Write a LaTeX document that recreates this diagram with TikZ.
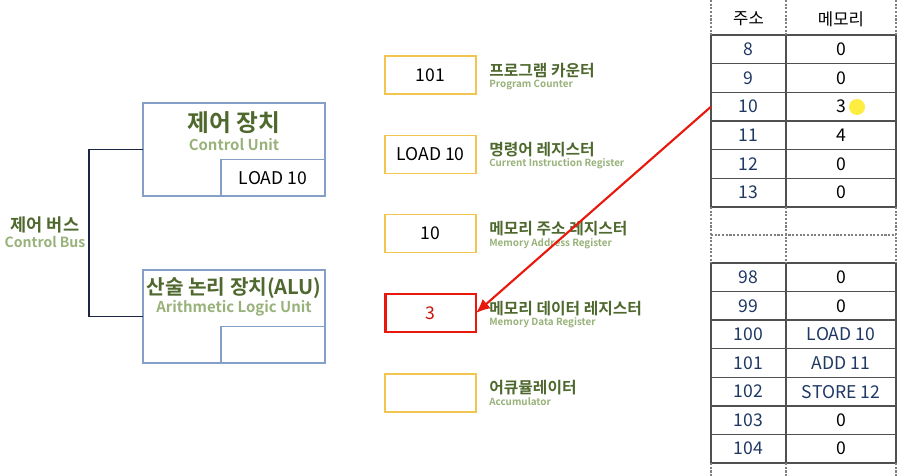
\documentclass[tikz,border=0pt]{standalone}
\usepackage{fontspec}
\setmainfont{Noto Sans CJK KR}[BoldFont={* Bold}]
\usetikzlibrary{positioning,arrows.meta}

\definecolor{unitblue}{RGB}{132,160,200}
\definecolor{reggold}{RGB}{242,196,80}
\definecolor{darkgreen}{RGB}{78,104,46}
\definecolor{lightgreen}{RGB}{152,178,122}
\definecolor{busnavy}{RGB}{28,38,66}
\definecolor{numnavy}{RGB}{31,56,100}
\definecolor{mdrred}{RGB}{232,24,12}
\definecolor{cellgray}{RGB}{80,80,80}

\begin{document}
\begin{tikzpicture}[x=0.02cm, y=-0.02cm,
    unit/.style={draw=unitblue, line width=0.6pt, fill=white, minimum width=3.64cm,
                 minimum height=1.86cm, inner sep=0pt, outer sep=0pt},
    unitreg/.style={draw=unitblue, line width=0.6pt, minimum width=2.08cm,
                    minimum height=0.73cm, inner sep=0pt, outer sep=0pt,
                    font=\fontsize{10}{12}\selectfont},
    unittitle/.style={inner sep=0pt, text=darkgreen, font=\fontsize{13.5}{15}\selectfont\bfseries},
    alutitle/.style={inner sep=0pt, text=darkgreen, font=\fontsize{11.5}{13}\selectfont\bfseries},
    unitsub/.style={inner sep=0pt, text=lightgreen, font=\fontsize{8.5}{10}\selectfont\bfseries},
    bus/.style={draw=busnavy, line width=1pt},
    reg/.style={draw=reggold, line width=0.8pt, minimum width=1.82cm, minimum height=0.76cm,
                inner sep=0pt, outer sep=0pt, font=\fontsize{10}{12}\selectfont},
    mdrbox/.style={reg, draw=mdrred, line width=1.7pt, text=mdrred!85!black},
    regko/.style={anchor=west, inner sep=0pt, text=darkgreen, font=\fontsize{9}{10}\selectfont\bfseries},
    regen/.style={anchor=west, inner sep=0pt, text=lightgreen, font=\fontsize{5.6}{6}\selectfont\bfseries},
    head/.style={inner sep=0pt, font=\fontsize{9.5}{11}\selectfont},
    cella/.style={draw=cellgray, line width=0.8pt, minimum width=1.5cm, minimum height=0.573cm,
                  inner sep=0pt, outer sep=0pt, text=numnavy, font=\fontsize{10}{12}\selectfont},
    cellm/.style={cella, minimum width=2.2cm, text=black},
    cellcode/.style={cellm, text=numnavy},
    gridline/.style={draw=gray, line width=0.6pt, dash pattern=on 1.2pt off 0.9pt},
    fetch/.style={draw=mdrred, line width=1.2pt, -{Latex[length=8pt,width=7pt]}}
]
\fill[white] (0,0) rectangle (907,476);
\useasboundingbox (0,0) rectangle (907,476);

% --- Control unit and ALU ---
\node[unit] (cu) at (234,149.5) {};
\node[unitreg] (cureg) at (273,178) {LOAD 10};
\node[unittitle] (cuko) at (234,123) {제어 장치};
\node[unitsub] (cuen) at (234,145) {Control Unit};

\node[unit] (alu) at (234,316.5) {};
\node[unitreg] (alureg) at (273,344.5) {};
\node[alutitle] (aluko) at (234,288) {산술 논리 장치(ALU)};
\node[unitsub] (aluen) at (234,308) {Arithmetic Logic Unit};

% --- Control bus ---
\draw[bus] (cu.west) -- ++(-54,0) |- (alu.west);
\node[unittitle, font=\fontsize{10}{11}\selectfont\bfseries] (busko) at (45,225) {제어 버스};
\node[unitsub, font=\fontsize{8}{10}\selectfont\bfseries] (busen) at (45,242) {Control Bus};

% --- Registers ---
\node[reg] (pc) at (430.5,75) {101};
\node[regko] (pcko) at (489,70.5) {프로그램 카운터};
\node[regen] (pcen) at (489,85) {Program Counter};

\node[reg] (ir) at (430.5,154.5) {LOAD 10};
\node[regko] (irko) at (489,150) {명령어 레지스터};
\node[regen] (iren) at (489,164) {Current Instruction Register};

\node[reg] (mar) at (430.5,233.5) {10};
\node[regko] (marko) at (489,229) {메모리 주소 레지스터};
\node[regen] (maren) at (489,243.5) {Memory Address Register};

\node[mdrbox] (mdr) at (430.5,313) {3};
\node[regko] (mdrko) at (489,308.5) {메모리 데이터 레지스터};
\node[regen] (mdren) at (489,323) {Memory Data Register};

\node[reg] (acc) at (430.5,393) {};
\node[regko] (accko) at (489,387.5) {어큐뮬레이터};
\node[regen] (accen) at (489,402) {Accumulator};

% --- Memory table ---
\coordinate (top) at (0,0);
\coordinate (bottom) at (0,476);
\coordinate (gapmid) at (0,235);
\node[head] (hadr) at (748.5,19) {주소};
\node[head] (hmem) at (841,19) {메모리};

\node[cella] (a8) at (748.5,49.33) {8};     \node[cellm] (m8) at (841,49.33) {0};
\node[cella] (a9) at (748.5,78) {9};        \node[cellm] (m9) at (841,78) {0};
\node[cella] (a10) at (748.5,106.67) {10};  \node[cellm] (m10) at (841,106.67) {3};
\node[cella] (a11) at (748.5,135.33) {11};  \node[cellm] (m11) at (841,135.33) {4};
\node[cella] (a12) at (748.5,164) {12};     \node[cellm] (m12) at (841,164) {0};
\node[cella] (a13) at (748.5,192.67) {13};  \node[cellm] (m13) at (841,192.67) {0};

\node[cella] (a98) at (748.5,277.29) {98};    \node[cellm] (m98) at (841,277.29) {0};
\node[cella] (a99) at (748.5,305.86) {99};    \node[cellm] (m99) at (841,305.86) {0};
\node[cella] (a100) at (748.5,334.43) {100};  \node[cellcode] (m100) at (841,334.43) {LOAD 10};
\node[cella] (a101) at (748.5,363) {101};     \node[cellcode] (m101) at (841,363) {ADD 11};
\node[cella] (a102) at (748.5,391.57) {102};  \node[cellcode] (m102) at (841,391.57) {STORE 12};
\node[cella] (a103) at (748.5,420.14) {103};  \node[cellm] (m103) at (841,420.14) {0};
\node[cella] (a104) at (748.5,448.71) {104};  \node[cellm] (m104) at (841,448.71) {0};

% dashed column lines where rows are left out
\draw[gridline] (a8.west |- top) -- (a8.west |- a8.north);
\draw[gridline] (a8.east |- top) -- (a8.east |- a8.north);
\draw[gridline] (m8.east |- top) -- (m8.east |- a8.north);
\draw[gridline] (a13.south west) -- (a98.north west);
\draw[gridline] (a13.south east) -- (a98.north east);
\draw[gridline] (m13.south east) -- (m98.north east);
\draw[gridline] (a8.west |- gapmid) -- (m8.east |- gapmid);
\draw[gridline] (a104.south west) -- (a104.west |- bottom);
\draw[gridline] (a104.south east) -- (a104.east |- bottom);
\draw[gridline] (m104.south east) -- (m104.east |- bottom);

% pointer highlight
\fill[yellow!90!orange, opacity=0.75] (857,107) circle (0.16cm);

% --- Memory to MDR ---
\draw[fetch] (a10.west) -- (mdr.east);

\end{tikzpicture}
\end{document}
